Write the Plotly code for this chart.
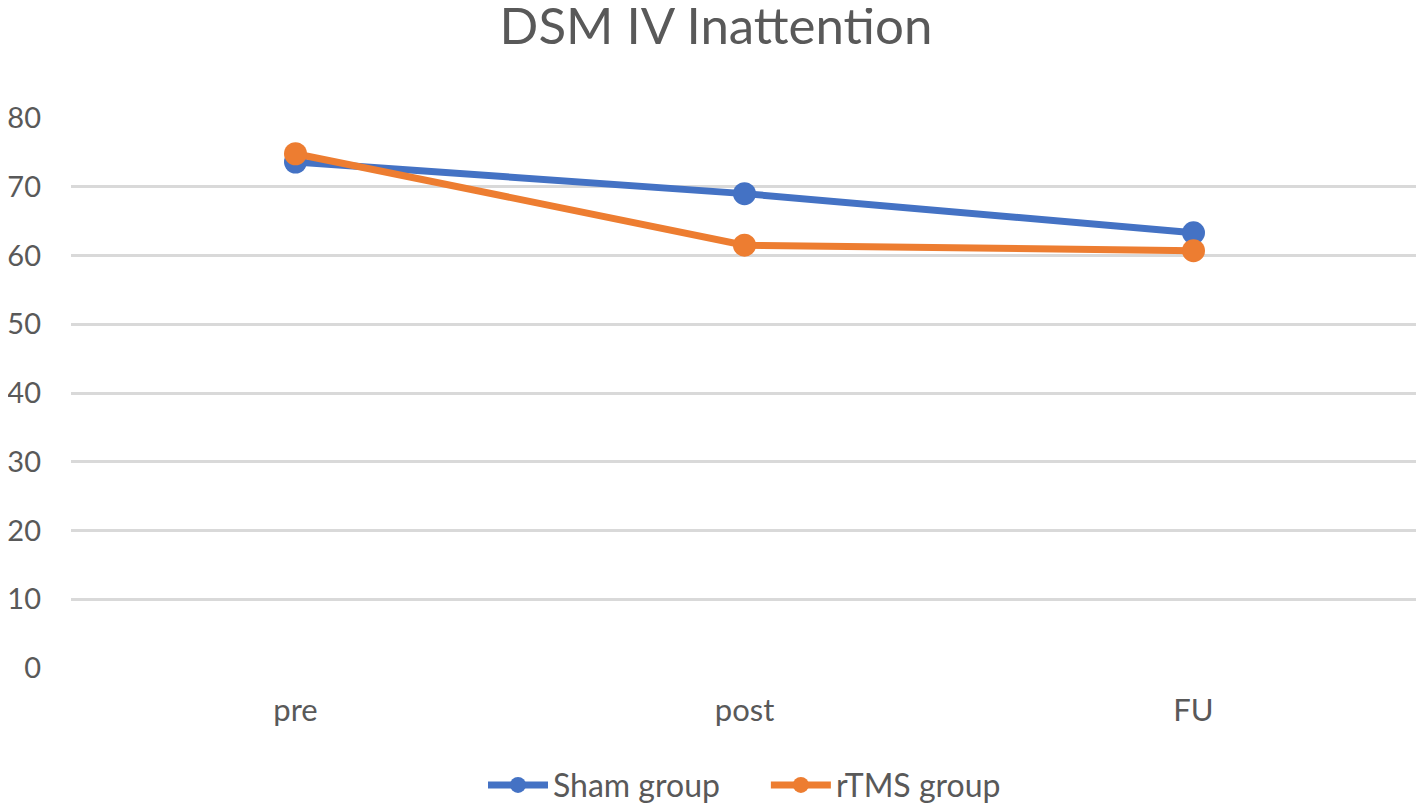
import plotly.graph_objects as go

categories = ["pre", "post", "FU"]
sham = [73.6, 69.0, 63.3]
rtms = [74.8, 61.5, 60.7]
y_ticks = [0, 10, 20, 30, 40, 50, 60, 70, 80]
series_names = ["Sham group", "rTMS group"]

FONT = "Lato, 'Open Sans', sans-serif"
GRAY = "#595959"

fig = go.Figure()
fig.add_trace(go.Scatter(x=categories, y=sham, name=series_names[0] + "\u00a0" * 5, mode="lines+markers",
                         line=dict(color="#4472C4", width=7),
                         marker=dict(color="#4472C4", size=23)))
fig.add_trace(go.Scatter(x=categories, y=rtms, name=series_names[1], mode="lines+markers",
                         line=dict(color="#ED7D31", width=7),
                         marker=dict(color="#ED7D31", size=23)))

fig.update_layout(
    width=1416, height=796,
    paper_bgcolor="white", plot_bgcolor="white",
    margin=dict(l=63, r=6, t=110, b=136, autoexpand=False),
    title=dict(text="DSM IV Inattention", x=0.5, xanchor="center", y=1, yanchor="top",
               pad=dict(t=0, b=0), font=dict(family=FONT, size=51, color=GRAY)),
    font=dict(family=FONT, color=GRAY),
    xaxis=dict(type="category", range=[-0.5, 2.5], showgrid=False, showline=False, zeroline=False,
               tickfont=dict(size=31, color=GRAY), ticks="", ticklabelstandoff=21, automargin=False),
    yaxis=dict(range=[0, 80], tickvals=y_ticks, showgrid=True, gridcolor="#D9D9D9", gridwidth=3,
               zeroline=False, showline=False, tickfont=dict(size=29, color=GRAY), ticks="",
               ticklabelstandoff=29, automargin=False),
    legend=dict(orientation="h", x=0.5, xanchor="center", y=-0.213, yanchor="middle",
                font=dict(size=32, color=GRAY), itemwidth=60),
    showlegend=True,
)

fig.write_html("out.html")
